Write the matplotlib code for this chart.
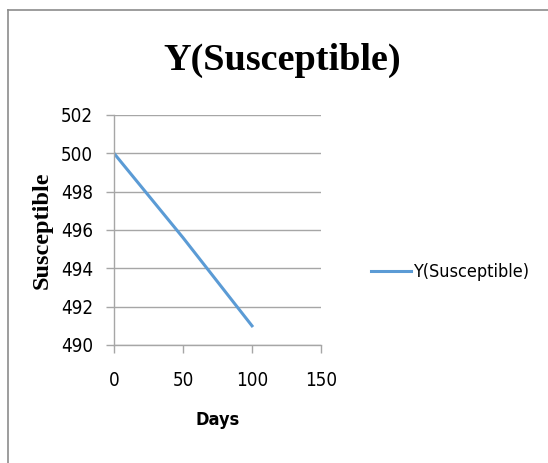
import matplotlib
matplotlib.use("Agg")
import matplotlib.pyplot as plt
from matplotlib.lines import Line2D
from matplotlib.font_manager import FontProperties

# Data
days = [0, 25, 50, 75, 100]
susceptible = [500.0, 497.8, 495.6, 493.3, 491.0]
x_ticks = [0, 50, 100, 150]
y_ticks = [490, 492, 494, 496, 498, 500, 502]

W, H = 548, 463
fig = plt.figure(figsize=(W / 100, H / 100), dpi=100)
fig.patch.set_facecolor("white")

# chart border (top and left edges visible)
fig.add_artist(Line2D([8 / W, 1], [1 - 10 / H, 1 - 10 / H], color="#8c8c8c", lw=1.2))
fig.add_artist(Line2D([8 / W, 8 / W], [0, 1 - 10 / H], color="#8c8c8c", lw=1.2))

ax = fig.add_axes([114 / W, 1 - 345 / H, (321 - 114) / W, (345 - 115) / H])

def narrow(size, weight="normal"):
    return FontProperties(family="DejaVu Sans", stretch="condensed", size=size, weight=weight)

serif = ["Liberation Serif", "DejaVu Serif"]

ax.plot(days, susceptible, color="#5B9BD5", lw=2.2, label="Y(Susceptible)")

ax.set_xlim(0, 150)
ax.set_ylim(490, 502)
ax.set_xticks(x_ticks)
ax.set_yticks(y_ticks)
ax.grid(axis="y", color="#a6a6a6", lw=1.0)
ax.set_axisbelow(True)

for s in ["top", "right"]:
    ax.spines[s].set_visible(False)
for s in ["left", "bottom"]:
    ax.spines[s].set_color("#a6a6a6")
    ax.spines[s].set_linewidth(1.0)

ax.tick_params(axis="both", colors="#a6a6a6", length=6, width=1.0, direction="out")
for lab in ax.get_xticklabels() + ax.get_yticklabels():
    lab.set_fontproperties(narrow(13.5))
    lab.set_color("black")
ax.tick_params(axis="y", pad=9)
ax.tick_params(axis="x", pad=13)

ax.set_xlabel("Days", fontproperties=narrow(13, "bold"), labelpad=15)
ax.set_ylabel("Susceptible", family=serif, fontsize=17.5, fontweight="bold", labelpad=6)

fig.text(282 / W, 1 - 60 / H, "Y(Susceptible)", family=serif, fontsize=27.5,
         fontweight="bold", ha="center", va="center")

leg = ax.legend(loc="center left", bbox_to_anchor=(364 / W, 1 - 272 / H),
                bbox_transform=fig.transFigure, frameon=False,
                prop=narrow(13),
                handlelength=2.2, handletextpad=0.1, borderaxespad=0)

fig.savefig("out.png", dpi=100)
